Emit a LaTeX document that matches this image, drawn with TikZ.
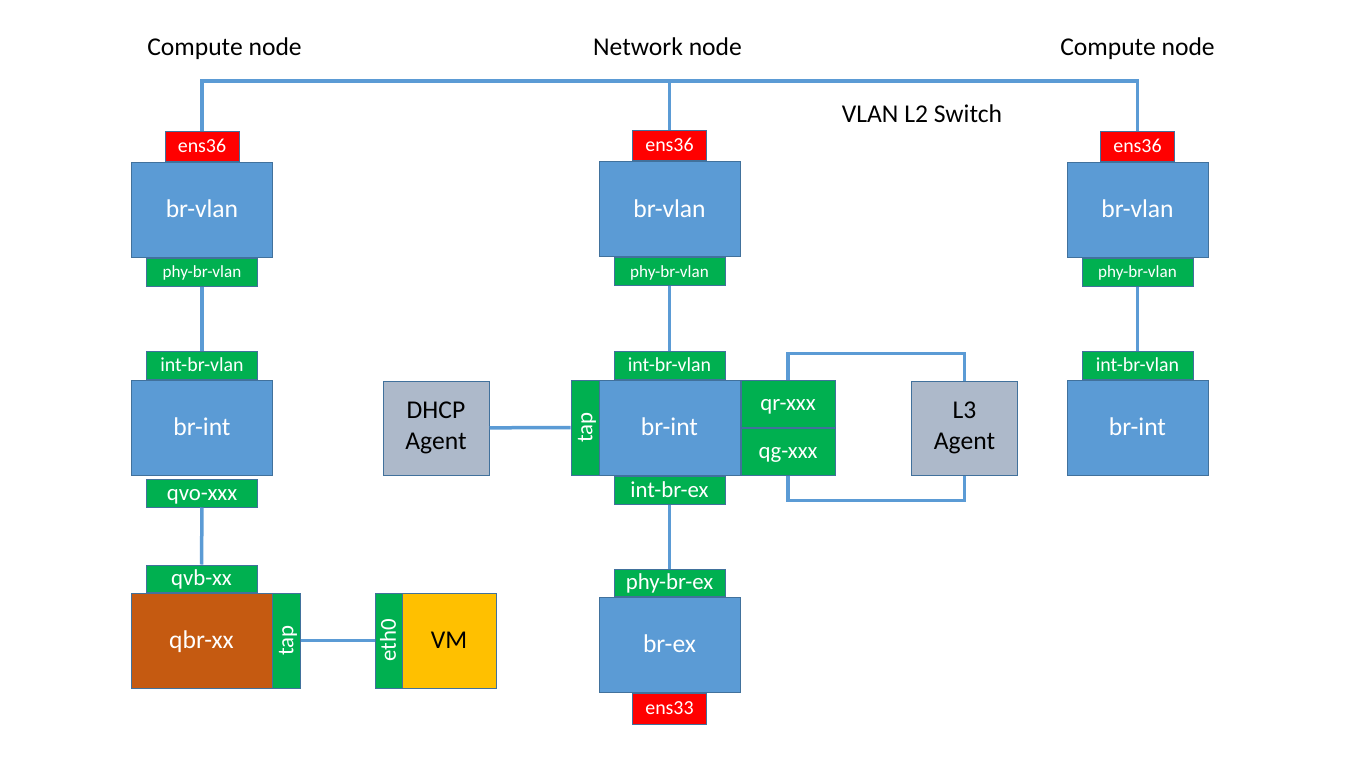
\documentclass[tikz,border=0pt]{standalone}
\usepackage{fontspec}
\setmainfont{Carlito}
\usetikzlibrary{positioning}
\definecolor{brblue}{HTML}{5B9BD5}
\definecolor{edgeblue}{HTML}{41719C}
\definecolor{portgreen}{HTML}{00B050}
\definecolor{nicred}{HTML}{FF0000}
\definecolor{qbrorange}{HTML}{C55A11}
\definecolor{vmyellow}{HTML}{FFC000}
\definecolor{agentgrey}{HTML}{ADB9CA}
\newcommand{\fsz}[1]{\fontsize{#1}{1.2\dimexpr#1pt\relax}\selectfont}
\begin{document}
\begin{tikzpicture}[
                                x = 1pt,
                                y = -1pt,
                                node distance = 0pt,
                                semithick
                                ]

                                \tikzstyle{big}=[font = \fsz{25.6}, text height = 20.5pt, text depth = 4.1pt]
                                \tikzstyle{mid}=[font = \fsz{22.8}, text height = 18.2pt, text depth = 3.6pt]
                                \tikzstyle{small}=[font = \fsz{19.9}, text height = 15.9pt, text depth = 3.2pt]
                                \tikzstyle{tiny}=[font = \fsz{17.1}, text height = 13.7pt, text depth = 2.7pt]

                                \tikzstyle{box}=[
                                        draw = edgeblue,
                                        line width = 1pt,
                                        inner sep = 0pt,
                                        text = white
                                ]
                                \tikzstyle{bridge}=[box, big,
                                        fill = brblue,
                                        minimum width = 141pt,
                                        minimum height = 95pt
                                ]
                                \tikzstyle{port}=[box, mid,
                                        fill = portgreen,
                                        minimum width = 111pt,
                                        minimum height = 28pt
                                ]
                                \tikzstyle{nic}=[box, small,
                                        fill = nicred,
                                        minimum width = 74pt,
                                        minimum height = 30pt
                                ]
                                \tikzstyle{agent}=[box,
                                        font = \fsz{25.6},
                                        fill = agentgrey,
                                        text = black,
                                        align = center,
                                        minimum width = 106pt,
                                        minimum height = 94pt
                                ]
                                \tikzstyle{link}=[
                                        draw = brblue,
                                        line width = 3.5pt
                                ]
                                \tikzstyle{title}=[big,
                                        inner sep = 0pt
                                ]

                                \useasboundingbox (0,0) rectangle (1366,768);

                                \node[title] (computeL) at (224.5,47) {Compute node};
                                \node[title] (network) at (667.5,47) {Network node};
                                \node[title] (computeR) at (1137.5,47) {Compute node};
                                \node[title] (switch) at (922,114) {VLAN L2 Switch};

                                % compute node, left
                                \node[bridge] (brvlanL) at (202,209.5) {br-vlan};
                                \node[nic] (ensL) [above=of brvlanL] {ens36};
                                \node[port, tiny] (phyL) [below=of brvlanL] {phy-br-vlan};
                                \node[bridge] (brintL) at (202,427.5) {br-int};
                                \node[port, small] (intvL) [above=of brintL] {int-br-vlan};
                                \node[port] (qvo) [below=3pt of brintL] {qvo-xxx};
                                \node[bridge, fill=qbrorange] (qbr) at (201.5,640.5) {qbr-xx};
                                \node[port, minimum height=27pt] (qvb) [above=of qbr] {qvb-xx};
                                \node[port, rotate=90, minimum width=95pt] (tapL) at (286,640.5) {tap};
                                \node[port, rotate=90, minimum width=95pt, minimum height=27pt] (eth0) at (388.5,640.5) {eth0};
                                \node[box, big, fill=vmyellow, text=black, minimum width=94pt, minimum height=95pt] (vm) at (449,640.5) {VM};

                                % network node
                                \node[bridge] (brvlanN) at (669.5,209) {br-vlan};
                                \node[nic] (ensN) [above=of brvlanN] {ens36};
                                \node[port, tiny] (phyN) [below=of brvlanN] {phy-br-vlan};
                                \node[bridge] (brintN) at (669.5,427.5) {br-int};
                                \node[port, small] (intvN) [above=of brintN] {int-br-vlan};
                                \node[port] (intexN) [below=of brintN] {int-br-ex};
                                \node[port, rotate=90, minimum width=95pt] (tapN) at (585,427.5) {tap};
                                \node[port, anchor=north west, minimum width=94pt, minimum height=47pt] (qr) at (brintN.north east) {qr-xxx};
                                \node[port, minimum width=94pt, minimum height=47pt] (qg) [below=of qr] {qg-xxx};
                                \node[agent] (dhcp) at (436,428) {DHCP\\Agent};
                                \node[agent] (l3) at (964.5,428) {L3\\Agent};
                                \node[bridge] (brex) at (669.5,644.5) {br-ex};
                                \node[port, minimum height=27pt] (phyexN) [above=of brex] {phy-br-ex};
                                \node[nic, minimum height=31pt] (ens33) [below=of brex] {ens33};

                                % compute node, right
                                \node[bridge] (brvlanR) at (1137.5,209.5) {br-vlan};
                                \node[nic] (ensR) [above=of brvlanR] {ens36};
                                \node[port, tiny] (phyR) [below=of brvlanR] {phy-br-vlan};
                                \node[bridge] (brintR) at (1137.5,427.5) {br-int};
                                \node[port, small] (intvR) [above=of brintR] {int-br-vlan};

                                \coordinate (sw) at (669.5,81);
                                \draw[link] (ensL.north) |- (sw) -| (ensR.north);
                                \draw[link] (ensN.north) -- (sw);
                                \draw[link] (phyL) -- (intvL);
                                \draw[link] (qvo) -- (qvb);
                                \draw[link] (tapL) -- (eth0);
                                \draw[link] (phyN) -- (intvN);
                                \draw[link] (dhcp) -- (tapN);
                                \draw[link] (intexN) -- (phyexN);
                                \draw[link] (qr.north) -- ++(0,-26) -| (l3.north);
                                \draw[link] (qg.south) -- ++(0,25) -| (l3.south);
                                \draw[link] (phyR) -- (intvR);
                       \end{tikzpicture}
\end{document}
